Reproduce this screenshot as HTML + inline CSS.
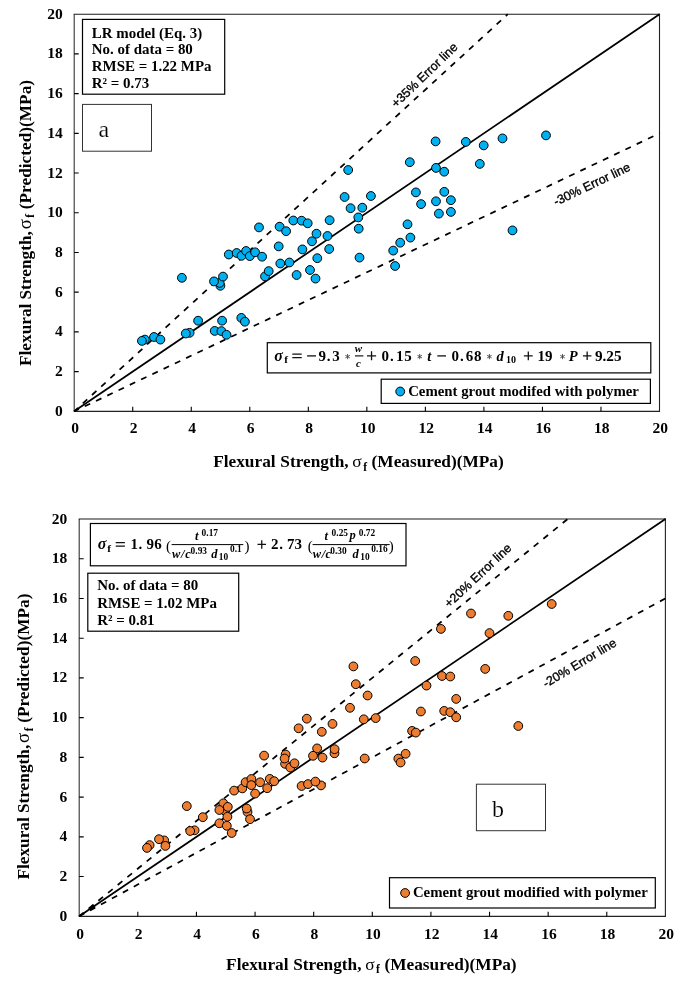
<!DOCTYPE html><html><head><meta charset="utf-8"><style>html,body{margin:0;padding:0;background:#fff;}svg{display:block;filter:blur(0.35px);}</style></head><body><svg width="684" height="996" viewBox="0 0 684 996"><style>
text{font-family:"Liberation Serif",serif;}
.tl{font-size:15.5px;font-weight:bold;}
.t{font-size:14.95px;font-weight:bold;}
.ti{font-size:17.3px;font-weight:bold;}
.el{font-family:"Liberation Sans",sans-serif;font-size:12.5px;stroke:#000;stroke-width:0.35px;}
.big{font-size:24px;stroke:#fff;stroke-width:0.2px;}
.eq{font-size:15px;font-weight:bold;}
.eqi{font-size:15px;font-weight:bold;font-style:italic;}
</style><rect width="684" height="996" fill="#fff"/><path d="M74.2 14.2V411.3" stroke="#333" stroke-width="1.1" fill="none"/>
<path d="M73.7 14.2H660.0" stroke="#1a1a1a" stroke-width="1.1" fill="none"/>
<path d="M659.5 13.7V411.8" stroke="#222" stroke-width="1.1" fill="none"/>
<path d="M73.7 411.3H660.0" stroke="#222" stroke-width="1.2" fill="none"/>
<path d="M132.73 411.3v-4.5 M74.2 371.59h4.5 M191.26 411.3v-4.5 M74.2 331.88h4.5 M249.79 411.3v-4.5 M74.2 292.17h4.5 M308.32 411.3v-4.5 M74.2 252.46h4.5 M366.85 411.3v-4.5 M74.2 212.75h4.5 M425.38 411.3v-4.5 M74.2 173.04h4.5 M483.91 411.3v-4.5 M74.2 133.33h4.5 M542.44 411.3v-4.5 M74.2 93.62h4.5 M600.97 411.3v-4.5 M74.2 53.91h4.5" stroke="#000" stroke-width="1.1" fill="none"/>
<text x="62.7" y="415.80" text-anchor="end" class="tl">0</text>
<text x="75.00" y="433.3" text-anchor="middle" class="tl">0</text>
<text x="62.7" y="376.09" text-anchor="end" class="tl">2</text>
<text x="133.53" y="433.3" text-anchor="middle" class="tl">2</text>
<text x="62.7" y="336.38" text-anchor="end" class="tl">4</text>
<text x="192.06" y="433.3" text-anchor="middle" class="tl">4</text>
<text x="62.7" y="296.67" text-anchor="end" class="tl">6</text>
<text x="250.59" y="433.3" text-anchor="middle" class="tl">6</text>
<text x="62.7" y="256.96" text-anchor="end" class="tl">8</text>
<text x="309.12" y="433.3" text-anchor="middle" class="tl">8</text>
<text x="62.7" y="217.25" text-anchor="end" class="tl">10</text>
<text x="367.65" y="433.3" text-anchor="middle" class="tl">10</text>
<text x="62.7" y="177.54" text-anchor="end" class="tl">12</text>
<text x="426.18" y="433.3" text-anchor="middle" class="tl">12</text>
<text x="62.7" y="137.83" text-anchor="end" class="tl">14</text>
<text x="484.71" y="433.3" text-anchor="middle" class="tl">14</text>
<text x="62.7" y="98.12" text-anchor="end" class="tl">16</text>
<text x="543.24" y="433.3" text-anchor="middle" class="tl">16</text>
<text x="62.7" y="58.41" text-anchor="end" class="tl">18</text>
<text x="601.77" y="433.3" text-anchor="middle" class="tl">18</text>
<text x="62.7" y="18.70" text-anchor="end" class="tl">20</text>
<text x="660.30" y="433.3" text-anchor="middle" class="tl">20</text>
<line x1="74.2" y1="411.3" x2="659.50" y2="14.20" stroke="#000" stroke-width="1.75"/>
<line x1="74.2" y1="411.3" x2="507.76" y2="14.20" stroke="#000" stroke-width="1.75" stroke-dasharray="6 6.47" stroke-dashoffset="0.8"/>
<line x1="74.2" y1="411.3" x2="659.50" y2="133.33" stroke="#000" stroke-width="1.75" stroke-dasharray="6 6.47" stroke-dashoffset="0.8"/>
<path d="M79.2 519V916.3" stroke="#333" stroke-width="1.1" fill="none"/>
<path d="M78.7 519H665.9" stroke="#1a1a1a" stroke-width="1.1" fill="none"/>
<path d="M665.4 518.5V916.8" stroke="#222" stroke-width="1.1" fill="none"/>
<path d="M78.7 916.3H665.9" stroke="#222" stroke-width="1.2" fill="none"/>
<path d="M137.82 916.3v-4.5 M79.2 876.57h4.5 M196.44 916.3v-4.5 M79.2 836.84h4.5 M255.06 916.3v-4.5 M79.2 797.11h4.5 M313.68 916.3v-4.5 M79.2 757.38h4.5 M372.30 916.3v-4.5 M79.2 717.65h4.5 M430.92 916.3v-4.5 M79.2 677.92h4.5 M489.54 916.3v-4.5 M79.2 638.19h4.5 M548.16 916.3v-4.5 M79.2 598.46h4.5 M606.78 916.3v-4.5 M79.2 558.73h4.5" stroke="#000" stroke-width="1.1" fill="none"/>
<text x="67.2" y="920.80" text-anchor="end" class="tl">0</text>
<text x="80.00" y="938.8" text-anchor="middle" class="tl">0</text>
<text x="67.2" y="881.07" text-anchor="end" class="tl">2</text>
<text x="138.62" y="938.8" text-anchor="middle" class="tl">2</text>
<text x="67.2" y="841.34" text-anchor="end" class="tl">4</text>
<text x="197.24" y="938.8" text-anchor="middle" class="tl">4</text>
<text x="67.2" y="801.61" text-anchor="end" class="tl">6</text>
<text x="255.86" y="938.8" text-anchor="middle" class="tl">6</text>
<text x="67.2" y="761.88" text-anchor="end" class="tl">8</text>
<text x="314.48" y="938.8" text-anchor="middle" class="tl">8</text>
<text x="67.2" y="722.15" text-anchor="end" class="tl">10</text>
<text x="373.10" y="938.8" text-anchor="middle" class="tl">10</text>
<text x="67.2" y="682.42" text-anchor="end" class="tl">12</text>
<text x="431.72" y="938.8" text-anchor="middle" class="tl">12</text>
<text x="67.2" y="642.69" text-anchor="end" class="tl">14</text>
<text x="490.34" y="938.8" text-anchor="middle" class="tl">14</text>
<text x="67.2" y="602.96" text-anchor="end" class="tl">16</text>
<text x="548.96" y="938.8" text-anchor="middle" class="tl">16</text>
<text x="67.2" y="563.23" text-anchor="end" class="tl">18</text>
<text x="607.58" y="938.8" text-anchor="middle" class="tl">18</text>
<text x="67.2" y="523.50" text-anchor="end" class="tl">20</text>
<text x="666.20" y="938.8" text-anchor="middle" class="tl">20</text>
<line x1="79.2" y1="916.3" x2="665.40" y2="519.00" stroke="#000" stroke-width="1.75"/>
<line x1="79.2" y1="916.3" x2="567.70" y2="519.00" stroke="#000" stroke-width="1.75" stroke-dasharray="6 6.47" stroke-dashoffset="0.24"/>
<line x1="79.2" y1="916.3" x2="665.40" y2="598.46" stroke="#000" stroke-width="1.75" stroke-dasharray="6 6.47" stroke-dashoffset="0.24"/>
<rect x="82.5" y="19.4" width="142.2" height="74.8" fill="#fff" stroke="#000" stroke-width="1.2"/>
<text class="t" x="91.8" y="37.6">LR model (Eq. 3)</text>
<text class="t" x="91.8" y="54.4">No. of data = 80</text>
<text class="t" x="91.8" y="71.3">RMSE = 1.22 MPa</text>
<text class="t" x="91.8" y="87.9">R² = 0.73</text>
<rect x="82.5" y="104.4" width="69" height="46.8" fill="#fff" stroke="#333" stroke-width="1"/>
<text class="big" x="98.5" y="137">a</text>
<rect x="267.3" y="342.7" width="383.5" height="30.2" fill="#fff" stroke="#000" stroke-width="1.2"/>
<rect x="381.2" y="379.2" width="269.2" height="24.2" fill="#fff" stroke="#000" stroke-width="1.2"/>
<circle cx="400.2" cy="391.5" r="4.4" fill="#00B0F0" stroke="#000" stroke-width="1"/>
<text class="t" style="font-size:14.8px" x="408.2" y="396.2">Cement grout modifed with polymer</text>
<rect x="90.4" y="523.5" width="315.6" height="42.3" fill="#fff" stroke="#000" stroke-width="1.2"/>
<rect x="87.8" y="573.2" width="150.9" height="58" fill="#fff" stroke="#000" stroke-width="1.2"/>
<text class="t" x="97.2" y="590.3">No. of data = 80</text>
<text class="t" x="97.2" y="607.8">RMSE = 1.02 MPa</text>
<text class="t" x="97.2" y="624.6">R² = 0.81</text>
<rect x="476.4" y="784.2" width="69.1" height="46.5" fill="#fff" stroke="#333" stroke-width="1"/>
<text class="big" x="492" y="817">b</text>
<rect x="389.5" y="877.7" width="265.8" height="30.3" fill="#fff" stroke="#000" stroke-width="1.2"/>
<circle cx="405.1" cy="893" r="4.4" fill="#ED7D31" stroke="#000" stroke-width="1"/>
<text class="t" style="font-size:14.8px" x="412.9" y="897.3">Cement grout modified with polymer</text><circle cx="144.9" cy="339.6" r="4.4" fill="#00B0F0" stroke="#000" stroke-width="1"/>
<circle cx="141.9" cy="340.9" r="4.4" fill="#00B0F0" stroke="#000" stroke-width="1"/>
<circle cx="154" cy="337" r="4.4" fill="#00B0F0" stroke="#000" stroke-width="1"/>
<circle cx="160.4" cy="339.6" r="4.4" fill="#00B0F0" stroke="#000" stroke-width="1"/>
<circle cx="181.9" cy="277.8" r="4.4" fill="#00B0F0" stroke="#000" stroke-width="1"/>
<circle cx="189.6" cy="332.8" r="4.4" fill="#00B0F0" stroke="#000" stroke-width="1"/>
<circle cx="185.8" cy="333.5" r="4.4" fill="#00B0F0" stroke="#000" stroke-width="1"/>
<circle cx="198.1" cy="320.7" r="4.4" fill="#00B0F0" stroke="#000" stroke-width="1"/>
<circle cx="220.4" cy="285.8" r="4.4" fill="#00B0F0" stroke="#000" stroke-width="1"/>
<circle cx="219.7" cy="282.9" r="4.4" fill="#00B0F0" stroke="#000" stroke-width="1"/>
<circle cx="214" cy="281.4" r="4.4" fill="#00B0F0" stroke="#000" stroke-width="1"/>
<circle cx="223" cy="276.6" r="4.4" fill="#00B0F0" stroke="#000" stroke-width="1"/>
<circle cx="214.7" cy="330.9" r="4.4" fill="#00B0F0" stroke="#000" stroke-width="1"/>
<circle cx="221.4" cy="331.1" r="4.4" fill="#00B0F0" stroke="#000" stroke-width="1"/>
<circle cx="226.5" cy="334.8" r="4.4" fill="#00B0F0" stroke="#000" stroke-width="1"/>
<circle cx="222.1" cy="320.7" r="4.4" fill="#00B0F0" stroke="#000" stroke-width="1"/>
<circle cx="241.3" cy="317.9" r="4.4" fill="#00B0F0" stroke="#000" stroke-width="1"/>
<circle cx="244.9" cy="321.7" r="4.4" fill="#00B0F0" stroke="#000" stroke-width="1"/>
<circle cx="228.8" cy="254.5" r="4.4" fill="#00B0F0" stroke="#000" stroke-width="1"/>
<circle cx="236.7" cy="253" r="4.4" fill="#00B0F0" stroke="#000" stroke-width="1"/>
<circle cx="241.5" cy="255.8" r="4.4" fill="#00B0F0" stroke="#000" stroke-width="1"/>
<circle cx="246.1" cy="251" r="4.4" fill="#00B0F0" stroke="#000" stroke-width="1"/>
<circle cx="249.8" cy="256.1" r="4.4" fill="#00B0F0" stroke="#000" stroke-width="1"/>
<circle cx="255.1" cy="252.3" r="4.4" fill="#00B0F0" stroke="#000" stroke-width="1"/>
<circle cx="262.1" cy="256.7" r="4.4" fill="#00B0F0" stroke="#000" stroke-width="1"/>
<circle cx="265" cy="276.4" r="4.4" fill="#00B0F0" stroke="#000" stroke-width="1"/>
<circle cx="268.7" cy="271.1" r="4.4" fill="#00B0F0" stroke="#000" stroke-width="1"/>
<circle cx="278.7" cy="246.4" r="4.4" fill="#00B0F0" stroke="#000" stroke-width="1"/>
<circle cx="280.3" cy="263.5" r="4.4" fill="#00B0F0" stroke="#000" stroke-width="1"/>
<circle cx="289.4" cy="262.5" r="4.4" fill="#00B0F0" stroke="#000" stroke-width="1"/>
<circle cx="296.6" cy="275" r="4.4" fill="#00B0F0" stroke="#000" stroke-width="1"/>
<circle cx="302.4" cy="249.4" r="4.4" fill="#00B0F0" stroke="#000" stroke-width="1"/>
<circle cx="310" cy="270" r="4.4" fill="#00B0F0" stroke="#000" stroke-width="1"/>
<circle cx="312" cy="241.3" r="4.4" fill="#00B0F0" stroke="#000" stroke-width="1"/>
<circle cx="315.5" cy="278.6" r="4.4" fill="#00B0F0" stroke="#000" stroke-width="1"/>
<circle cx="317.3" cy="258.2" r="4.4" fill="#00B0F0" stroke="#000" stroke-width="1"/>
<circle cx="329.2" cy="249" r="4.4" fill="#00B0F0" stroke="#000" stroke-width="1"/>
<circle cx="279.6" cy="226.7" r="4.4" fill="#00B0F0" stroke="#000" stroke-width="1"/>
<circle cx="286.1" cy="231.2" r="4.4" fill="#00B0F0" stroke="#000" stroke-width="1"/>
<circle cx="293.3" cy="220.5" r="4.4" fill="#00B0F0" stroke="#000" stroke-width="1"/>
<circle cx="301.6" cy="220.7" r="4.4" fill="#00B0F0" stroke="#000" stroke-width="1"/>
<circle cx="307.7" cy="223.3" r="4.4" fill="#00B0F0" stroke="#000" stroke-width="1"/>
<circle cx="316.5" cy="233.7" r="4.4" fill="#00B0F0" stroke="#000" stroke-width="1"/>
<circle cx="327.5" cy="236" r="4.4" fill="#00B0F0" stroke="#000" stroke-width="1"/>
<circle cx="329.6" cy="220.2" r="4.4" fill="#00B0F0" stroke="#000" stroke-width="1"/>
<circle cx="348.2" cy="170" r="4.4" fill="#00B0F0" stroke="#000" stroke-width="1"/>
<circle cx="344.6" cy="197" r="4.4" fill="#00B0F0" stroke="#000" stroke-width="1"/>
<circle cx="350.6" cy="208.2" r="4.4" fill="#00B0F0" stroke="#000" stroke-width="1"/>
<circle cx="362.3" cy="207.7" r="4.4" fill="#00B0F0" stroke="#000" stroke-width="1"/>
<circle cx="358.3" cy="217.4" r="4.4" fill="#00B0F0" stroke="#000" stroke-width="1"/>
<circle cx="358.7" cy="228.7" r="4.4" fill="#00B0F0" stroke="#000" stroke-width="1"/>
<circle cx="359.5" cy="257.6" r="4.4" fill="#00B0F0" stroke="#000" stroke-width="1"/>
<circle cx="370.9" cy="196" r="4.4" fill="#00B0F0" stroke="#000" stroke-width="1"/>
<circle cx="393.2" cy="250.6" r="4.4" fill="#00B0F0" stroke="#000" stroke-width="1"/>
<circle cx="395.1" cy="266" r="4.4" fill="#00B0F0" stroke="#000" stroke-width="1"/>
<circle cx="400.2" cy="242.7" r="4.4" fill="#00B0F0" stroke="#000" stroke-width="1"/>
<circle cx="407.5" cy="224.3" r="4.4" fill="#00B0F0" stroke="#000" stroke-width="1"/>
<circle cx="410.4" cy="237.6" r="4.4" fill="#00B0F0" stroke="#000" stroke-width="1"/>
<circle cx="409.8" cy="162.2" r="4.4" fill="#00B0F0" stroke="#000" stroke-width="1"/>
<circle cx="415.9" cy="192.4" r="4.4" fill="#00B0F0" stroke="#000" stroke-width="1"/>
<circle cx="421.1" cy="204.1" r="4.4" fill="#00B0F0" stroke="#000" stroke-width="1"/>
<circle cx="435.6" cy="141.4" r="4.4" fill="#00B0F0" stroke="#000" stroke-width="1"/>
<circle cx="436" cy="167.9" r="4.4" fill="#00B0F0" stroke="#000" stroke-width="1"/>
<circle cx="444.2" cy="171.7" r="4.4" fill="#00B0F0" stroke="#000" stroke-width="1"/>
<circle cx="436" cy="201.3" r="4.4" fill="#00B0F0" stroke="#000" stroke-width="1"/>
<circle cx="444.3" cy="191.8" r="4.4" fill="#00B0F0" stroke="#000" stroke-width="1"/>
<circle cx="450.9" cy="200.2" r="4.4" fill="#00B0F0" stroke="#000" stroke-width="1"/>
<circle cx="438.9" cy="213.6" r="4.4" fill="#00B0F0" stroke="#000" stroke-width="1"/>
<circle cx="450.9" cy="211.9" r="4.4" fill="#00B0F0" stroke="#000" stroke-width="1"/>
<circle cx="465.8" cy="141.9" r="4.4" fill="#00B0F0" stroke="#000" stroke-width="1"/>
<circle cx="483.7" cy="145.4" r="4.4" fill="#00B0F0" stroke="#000" stroke-width="1"/>
<circle cx="502.5" cy="138.4" r="4.4" fill="#00B0F0" stroke="#000" stroke-width="1"/>
<circle cx="479.8" cy="163.9" r="4.4" fill="#00B0F0" stroke="#000" stroke-width="1"/>
<circle cx="512.5" cy="230.4" r="4.4" fill="#00B0F0" stroke="#000" stroke-width="1"/>
<circle cx="546" cy="135.4" r="4.4" fill="#00B0F0" stroke="#000" stroke-width="1"/>
<circle cx="259" cy="227.4" r="4.4" fill="#00B0F0" stroke="#000" stroke-width="1"/>
<circle cx="149.6" cy="845.1" r="4.4" fill="#ED7D31" stroke="#000" stroke-width="1"/>
<circle cx="147" cy="847.9" r="4.4" fill="#ED7D31" stroke="#000" stroke-width="1"/>
<circle cx="164.2" cy="840.4" r="4.4" fill="#ED7D31" stroke="#000" stroke-width="1"/>
<circle cx="159" cy="839.2" r="4.4" fill="#ED7D31" stroke="#000" stroke-width="1"/>
<circle cx="165.4" cy="845.9" r="4.4" fill="#ED7D31" stroke="#000" stroke-width="1"/>
<circle cx="186.8" cy="806.1" r="4.4" fill="#ED7D31" stroke="#000" stroke-width="1"/>
<circle cx="194.6" cy="830.3" r="4.4" fill="#ED7D31" stroke="#000" stroke-width="1"/>
<circle cx="190.2" cy="831" r="4.4" fill="#ED7D31" stroke="#000" stroke-width="1"/>
<circle cx="202.8" cy="817.2" r="4.4" fill="#ED7D31" stroke="#000" stroke-width="1"/>
<circle cx="225.1" cy="811" r="4.4" fill="#ED7D31" stroke="#000" stroke-width="1"/>
<circle cx="223.3" cy="803.3" r="4.4" fill="#ED7D31" stroke="#000" stroke-width="1"/>
<circle cx="219.4" cy="810" r="4.4" fill="#ED7D31" stroke="#000" stroke-width="1"/>
<circle cx="227.8" cy="806.9" r="4.4" fill="#ED7D31" stroke="#000" stroke-width="1"/>
<circle cx="227.4" cy="816.8" r="4.4" fill="#ED7D31" stroke="#000" stroke-width="1"/>
<circle cx="219.4" cy="823.3" r="4.4" fill="#ED7D31" stroke="#000" stroke-width="1"/>
<circle cx="226.8" cy="825.8" r="4.4" fill="#ED7D31" stroke="#000" stroke-width="1"/>
<circle cx="231.7" cy="833" r="4.4" fill="#ED7D31" stroke="#000" stroke-width="1"/>
<circle cx="247.5" cy="812" r="4.4" fill="#ED7D31" stroke="#000" stroke-width="1"/>
<circle cx="246.7" cy="808.5" r="4.4" fill="#ED7D31" stroke="#000" stroke-width="1"/>
<circle cx="250" cy="819.2" r="4.4" fill="#ED7D31" stroke="#000" stroke-width="1"/>
<circle cx="234.1" cy="790.6" r="4.4" fill="#ED7D31" stroke="#000" stroke-width="1"/>
<circle cx="242.3" cy="788.4" r="4.4" fill="#ED7D31" stroke="#000" stroke-width="1"/>
<circle cx="245.6" cy="782.2" r="4.4" fill="#ED7D31" stroke="#000" stroke-width="1"/>
<circle cx="251.4" cy="779" r="4.4" fill="#ED7D31" stroke="#000" stroke-width="1"/>
<circle cx="251.3" cy="785.1" r="4.4" fill="#ED7D31" stroke="#000" stroke-width="1"/>
<circle cx="260.1" cy="782.3" r="4.4" fill="#ED7D31" stroke="#000" stroke-width="1"/>
<circle cx="255.1" cy="793.6" r="4.4" fill="#ED7D31" stroke="#000" stroke-width="1"/>
<circle cx="267.2" cy="788.2" r="4.4" fill="#ED7D31" stroke="#000" stroke-width="1"/>
<circle cx="269.8" cy="778.9" r="4.4" fill="#ED7D31" stroke="#000" stroke-width="1"/>
<circle cx="274.2" cy="781.2" r="4.4" fill="#ED7D31" stroke="#000" stroke-width="1"/>
<circle cx="264.1" cy="755.6" r="4.4" fill="#ED7D31" stroke="#000" stroke-width="1"/>
<circle cx="285.6" cy="754.5" r="4.4" fill="#ED7D31" stroke="#000" stroke-width="1"/>
<circle cx="285.1" cy="763.8" r="4.4" fill="#ED7D31" stroke="#000" stroke-width="1"/>
<circle cx="290.3" cy="767.5" r="4.4" fill="#ED7D31" stroke="#000" stroke-width="1"/>
<circle cx="284.6" cy="758.5" r="4.4" fill="#ED7D31" stroke="#000" stroke-width="1"/>
<circle cx="294.5" cy="763.3" r="4.4" fill="#ED7D31" stroke="#000" stroke-width="1"/>
<circle cx="298.6" cy="728.3" r="4.4" fill="#ED7D31" stroke="#000" stroke-width="1"/>
<circle cx="306.8" cy="718.7" r="4.4" fill="#ED7D31" stroke="#000" stroke-width="1"/>
<circle cx="301.6" cy="786" r="4.4" fill="#ED7D31" stroke="#000" stroke-width="1"/>
<circle cx="308" cy="784.1" r="4.4" fill="#ED7D31" stroke="#000" stroke-width="1"/>
<circle cx="321" cy="785.4" r="4.4" fill="#ED7D31" stroke="#000" stroke-width="1"/>
<circle cx="315.4" cy="781.6" r="4.4" fill="#ED7D31" stroke="#000" stroke-width="1"/>
<circle cx="317.1" cy="748.4" r="4.4" fill="#ED7D31" stroke="#000" stroke-width="1"/>
<circle cx="313" cy="755.8" r="4.4" fill="#ED7D31" stroke="#000" stroke-width="1"/>
<circle cx="322.5" cy="757.6" r="4.4" fill="#ED7D31" stroke="#000" stroke-width="1"/>
<circle cx="334.5" cy="753.3" r="4.4" fill="#ED7D31" stroke="#000" stroke-width="1"/>
<circle cx="334.6" cy="749.2" r="4.4" fill="#ED7D31" stroke="#000" stroke-width="1"/>
<circle cx="321.8" cy="731.8" r="4.4" fill="#ED7D31" stroke="#000" stroke-width="1"/>
<circle cx="332.5" cy="723.9" r="4.4" fill="#ED7D31" stroke="#000" stroke-width="1"/>
<circle cx="353.4" cy="666.4" r="4.4" fill="#ED7D31" stroke="#000" stroke-width="1"/>
<circle cx="355.8" cy="684.2" r="4.4" fill="#ED7D31" stroke="#000" stroke-width="1"/>
<circle cx="367.6" cy="695.5" r="4.4" fill="#ED7D31" stroke="#000" stroke-width="1"/>
<circle cx="350" cy="707.8" r="4.4" fill="#ED7D31" stroke="#000" stroke-width="1"/>
<circle cx="363.8" cy="719.3" r="4.4" fill="#ED7D31" stroke="#000" stroke-width="1"/>
<circle cx="375.7" cy="718.1" r="4.4" fill="#ED7D31" stroke="#000" stroke-width="1"/>
<circle cx="364.7" cy="758.5" r="4.4" fill="#ED7D31" stroke="#000" stroke-width="1"/>
<circle cx="398.3" cy="758.6" r="4.4" fill="#ED7D31" stroke="#000" stroke-width="1"/>
<circle cx="400.6" cy="762.5" r="4.4" fill="#ED7D31" stroke="#000" stroke-width="1"/>
<circle cx="405.6" cy="753.8" r="4.4" fill="#ED7D31" stroke="#000" stroke-width="1"/>
<circle cx="412.1" cy="730.9" r="4.4" fill="#ED7D31" stroke="#000" stroke-width="1"/>
<circle cx="415.8" cy="732.6" r="4.4" fill="#ED7D31" stroke="#000" stroke-width="1"/>
<circle cx="420.9" cy="711.5" r="4.4" fill="#ED7D31" stroke="#000" stroke-width="1"/>
<circle cx="415.2" cy="661" r="4.4" fill="#ED7D31" stroke="#000" stroke-width="1"/>
<circle cx="426.5" cy="685.6" r="4.4" fill="#ED7D31" stroke="#000" stroke-width="1"/>
<circle cx="440.9" cy="628.9" r="4.4" fill="#ED7D31" stroke="#000" stroke-width="1"/>
<circle cx="442" cy="676" r="4.4" fill="#ED7D31" stroke="#000" stroke-width="1"/>
<circle cx="450.3" cy="676.5" r="4.4" fill="#ED7D31" stroke="#000" stroke-width="1"/>
<circle cx="444.2" cy="710.9" r="4.4" fill="#ED7D31" stroke="#000" stroke-width="1"/>
<circle cx="450.3" cy="712.2" r="4.4" fill="#ED7D31" stroke="#000" stroke-width="1"/>
<circle cx="456.2" cy="698.9" r="4.4" fill="#ED7D31" stroke="#000" stroke-width="1"/>
<circle cx="456.2" cy="717.3" r="4.4" fill="#ED7D31" stroke="#000" stroke-width="1"/>
<circle cx="471" cy="613.5" r="4.4" fill="#ED7D31" stroke="#000" stroke-width="1"/>
<circle cx="489.5" cy="633.1" r="4.4" fill="#ED7D31" stroke="#000" stroke-width="1"/>
<circle cx="508.3" cy="615.8" r="4.4" fill="#ED7D31" stroke="#000" stroke-width="1"/>
<circle cx="485.2" cy="668.9" r="4.4" fill="#ED7D31" stroke="#000" stroke-width="1"/>
<circle cx="518.3" cy="726" r="4.4" fill="#ED7D31" stroke="#000" stroke-width="1"/>
<circle cx="551.7" cy="604" r="4.4" fill="#ED7D31" stroke="#000" stroke-width="1"/><g transform="translate(213.2,467)"><text class="ti" x="0" y="0">Flexural</text><text class="ti" x="67.1" y="0">Strength,</text><text x="139.1" y="0" style="font-size:17.5px">σ</text><text x="150.0" y="3.6" style="font-size:11.5px;font-weight:bold">f</text><text class="ti" x="158.4" y="0">(Measured)(MPa)</text></g>
<g transform="translate(226.1,969.8)"><text class="ti" x="0" y="0">Flexural</text><text class="ti" x="67.1" y="0">Strength,</text><text x="139.1" y="0" style="font-size:17.5px">σ</text><text x="150.0" y="3.6" style="font-size:11.5px;font-weight:bold">f</text><text class="ti" x="158.4" y="0">(Measured)(MPa)</text></g>
<g transform="translate(30.6,366) rotate(-90)"><text class="ti" x="0" y="0">Flexural</text><text class="ti" x="66.5" y="0">Strength,</text><text x="136.7" y="0" style="font-size:18.8px">σ</text><text x="148.3" y="3.6" style="font-size:11.5px;font-weight:bold">f</text><text class="ti" x="156.8" y="0">(Predicted)(MPa)</text></g>
<g transform="translate(29.1,879.6) rotate(-90)"><text class="ti" x="0" y="0">Flexural</text><text class="ti" x="66.5" y="0">Strength,</text><text x="136.7" y="0" style="font-size:18.8px">σ</text><text x="148.3" y="3.6" style="font-size:11.5px;font-weight:bold">f</text><text class="ti" x="156.8" y="0">(Predicted)(MPa)</text></g><text class="el" transform="translate(396.3,108.2) rotate(-44.1)">+35% Error line</text>
<text class="el" transform="translate(556,206) rotate(-25.6)">-30% Error line</text>
<text class="el" transform="translate(449.3,608.3) rotate(-43.3)">+20% Error line</text>
<text class="el" transform="translate(546,688) rotate(-31)">-20% Error line</text><text x="274.3" y="360.6" style="font-size:16px;font-weight:bold;font-style:italic;" text-anchor="start">σ</text>
<text x="284.2" y="363.1" style="font-size:11.3px;font-weight:bold;" text-anchor="start">f</text>
<path d="M292.3 354.2H301.7M292.3 357.6H301.7" stroke="#111" stroke-width="1.3" fill="none"/>
<path d="M307.1 355.9H316" stroke="#111" stroke-width="1.3" fill="none"/>
<text x="318.5" y="360.6" style="font-size:15px;font-weight:bold;" text-anchor="start">9</text>
<text x="326.8" y="360.6" style="font-size:15px;font-weight:bold;" text-anchor="start">.</text>
<text x="332.3" y="360.6" style="font-size:15px;font-weight:bold;" text-anchor="start">3</text>
<path d="M347.60 354.00L347.60 359.20M345.35 355.30L349.85 357.90M345.35 357.90L349.85 355.30" stroke="#444" stroke-width="0.9" fill="none"/>
<text x="354.8" y="351.5" style="font-size:11px;font-weight:bold;font-style:italic;" text-anchor="start">w</text>
<line x1="355" y1="355.9" x2="363.4" y2="355.9" stroke="#000" stroke-width="1.1"/>
<text x="356" y="367.3" style="font-size:10.8px;font-weight:bold;font-style:italic;" text-anchor="start">c</text>
<path d="M367 355.8H376.1M371.55 351.25V360.35" stroke="#111" stroke-width="1.3" fill="none"/>
<text x="381.5" y="360.6" style="font-size:15px;font-weight:bold;" text-anchor="start">0</text>
<text x="390" y="360.6" style="font-size:15px;font-weight:bold;" text-anchor="start">.</text>
<text x="396" y="360.6" style="font-size:15px;font-weight:bold;" text-anchor="start">1</text>
<text x="404.3" y="360.6" style="font-size:15px;font-weight:bold;" text-anchor="start">5</text>
<path d="M419.70 354.00L419.70 359.20M417.45 355.30L421.95 357.90M417.45 357.90L421.95 355.30" stroke="#444" stroke-width="0.9" fill="none"/>
<text x="427.2" y="360.6" style="font-size:14.5px;font-weight:bold;font-style:italic;" text-anchor="start">t</text>
<path d="M437.3 355.9H446" stroke="#111" stroke-width="1.3" fill="none"/>
<text x="451.4" y="360.6" style="font-size:15px;font-weight:bold;" text-anchor="start">0</text>
<text x="460" y="360.6" style="font-size:15px;font-weight:bold;" text-anchor="start">.</text>
<text x="465.8" y="360.6" style="font-size:15px;font-weight:bold;" text-anchor="start">6</text>
<text x="474" y="360.6" style="font-size:15px;font-weight:bold;" text-anchor="start">8</text>
<path d="M489.40 354.00L489.40 359.20M487.15 355.30L491.65 357.90M487.15 357.90L491.65 355.30" stroke="#444" stroke-width="0.9" fill="none"/>
<text x="496.6" y="360.6" style="font-size:14.5px;font-weight:bold;font-style:italic;" text-anchor="start">d</text>
<text x="506" y="363" style="font-size:10px;font-weight:bold;" text-anchor="start">10</text>
<path d="M523.9 355.8H532.7M528.3 351.4V360.20000000000005" stroke="#111" stroke-width="1.3" fill="none"/>
<text x="537.6" y="360.6" style="font-size:15px;font-weight:bold;" text-anchor="start">19</text>
<path d="M562.50 354.00L562.50 359.20M560.25 355.30L564.75 357.90M560.25 357.90L564.75 355.30" stroke="#444" stroke-width="0.9" fill="none"/>
<text x="568.8" y="360.6" style="font-size:14.5px;font-weight:bold;font-style:italic;" text-anchor="start">P</text>
<path d="M582.9 355.8H591.4M587.15 351.55V360.05" stroke="#111" stroke-width="1.3" fill="none"/>
<text x="594.9" y="360.6" style="font-size:15.2px;font-weight:bold;" text-anchor="start">9.25</text>
<text x="97.7" y="549.0" style="font-size:16px;font-weight:bold;font-style:italic;" text-anchor="start">σ</text>
<text x="107.3" y="551.7" style="font-size:11.3px;font-weight:bold;" text-anchor="start">f</text>
<path d="M115.7 542.6H124.9M115.7 546.1H124.9" stroke="#111" stroke-width="1.3" fill="none"/>
<text x="130.6" y="549.0" style="font-size:15px;font-weight:bold;" text-anchor="start">1</text>
<text x="138.5" y="549.0" style="font-size:15px;font-weight:bold;" text-anchor="start">.</text>
<text x="146.4" y="549.0" style="font-size:15px;font-weight:bold;" text-anchor="start">9</text>
<text x="154.3" y="549.0" style="font-size:15px;font-weight:bold;" text-anchor="start">6</text>
<text x="166.0" y="550.5" style="font-size:15px;font-weight:normal;" text-anchor="start">(</text>
<line x1="171.6" y1="544.6" x2="243.3" y2="544.6" stroke="#000" stroke-width="1"/>
<text x="195.0" y="539.8" style="font-size:12.5px;font-weight:bold;font-style:italic;" text-anchor="start">t</text>
<text x="201.6" y="535.7" style="font-size:9.4px;font-weight:bold;" text-anchor="start">0.17</text>
<text x="172.0" y="557.6" style="font-size:12.5px;font-weight:bold;font-style:italic;" text-anchor="start" letter-spacing="0.7">w/c</text>
<text x="190.6" y="554.3" style="font-size:9.4px;font-weight:bold;" text-anchor="start">0.93</text>
<text x="211.3" y="557.6" style="font-size:12.5px;font-weight:bold;font-style:italic;" text-anchor="start">d</text>
<text x="218.8" y="559.6" style="font-size:9.4px;font-weight:bold;" text-anchor="start">10</text>
<text x="230.0" y="551.7" style="font-size:9.4px;font-weight:bold;" text-anchor="start">0.1</text>
<text x="244.4" y="550.5" style="font-size:15px;font-weight:normal;" text-anchor="start">)</text>
<path d="M257.5 544.4H266M261.75 540.15V548.65" stroke="#111" stroke-width="1.3" fill="none"/>
<text x="271.1" y="549.0" style="font-size:15px;font-weight:bold;" text-anchor="start">2</text>
<text x="279.3" y="549.0" style="font-size:15px;font-weight:bold;" text-anchor="start">.</text>
<text x="286.9" y="549.0" style="font-size:15px;font-weight:bold;" text-anchor="start">7</text>
<text x="294.5" y="549.0" style="font-size:15px;font-weight:bold;" text-anchor="start">3</text>
<text x="307.7" y="550.5" style="font-size:15px;font-weight:normal;" text-anchor="start">(</text>
<line x1="312.6" y1="544.6" x2="389.7" y2="544.6" stroke="#000" stroke-width="1"/>
<text x="324.6" y="539.8" style="font-size:12.5px;font-weight:bold;font-style:italic;" text-anchor="start">t</text>
<text x="331.6" y="535.5" style="font-size:9.4px;font-weight:bold;" text-anchor="start">0.25</text>
<text x="349.4" y="538.6" style="font-size:12.5px;font-weight:bold;font-style:italic;" text-anchor="start">p</text>
<text x="358.8" y="535.5" style="font-size:9.4px;font-weight:bold;" text-anchor="start">0.72</text>
<text x="312.8" y="557.6" style="font-size:12.5px;font-weight:bold;font-style:italic;" text-anchor="start" letter-spacing="0.5">w/c</text>
<text x="330.3" y="554.3" style="font-size:9.4px;font-weight:bold;" text-anchor="start">0.30</text>
<text x="352.6" y="557.6" style="font-size:12.5px;font-weight:bold;font-style:italic;" text-anchor="start">d</text>
<text x="360.2" y="559.6" style="font-size:9.4px;font-weight:bold;" text-anchor="start">10</text>
<text x="371.2" y="551.7" style="font-size:9.4px;font-weight:bold;" text-anchor="start">0.16</text>
<text x="388.8" y="550.5" style="font-size:15px;font-weight:normal;" text-anchor="start">)</text>
<line x1="89.5" y1="909.3" x2="94.5" y2="905.6" stroke="#000" stroke-width="3.5"/></svg></body></html>
